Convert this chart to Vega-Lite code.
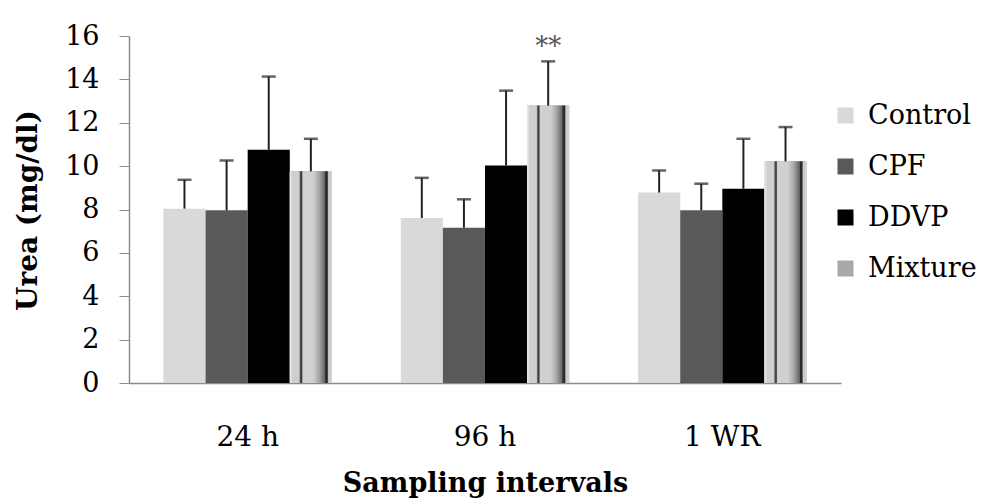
{
  "$schema": "https://vega.github.io/schema/vega-lite/v6.json",
  "width": 712,
  "height": 347,
  "autosize": "none",
  "padding": {"left": 129, "top": 36, "right": 146, "bottom": 121},
  "background": "white",
  "data": {
    "values": [
      {"Interval": "24 h", "Group": "Control", "v": 8.04, "err": 9.37, "sig": ""},
      {"Interval": "24 h", "Group": "CPF", "v": 7.96, "err": 10.26, "sig": ""},
      {"Interval": "24 h", "Group": "DDVP", "v": 10.75, "err": 14.13, "sig": ""},
      {"Interval": "24 h", "Group": "Mixture", "v": 9.76, "err": 11.26, "sig": ""},
      {"Interval": "96 h", "Group": "Control", "v": 7.61, "err": 9.46, "sig": ""},
      {"Interval": "96 h", "Group": "CPF", "v": 7.16, "err": 8.47, "sig": ""},
      {"Interval": "96 h", "Group": "DDVP", "v": 10.03, "err": 13.48, "sig": ""},
      {"Interval": "96 h", "Group": "Mixture", "v": 12.79, "err": 14.83, "sig": "**"},
      {"Interval": "1 WR", "Group": "Control", "v": 8.78, "err": 9.80, "sig": ""},
      {"Interval": "1 WR", "Group": "CPF", "v": 7.96, "err": 9.19, "sig": ""},
      {"Interval": "1 WR", "Group": "DDVP", "v": 8.96, "err": 11.26, "sig": ""},
      {"Interval": "1 WR", "Group": "Mixture", "v": 10.22, "err": 11.80, "sig": ""}
    ]
  },
  "config": {
    "view": {"stroke": null},
    "font": "DejaVu Serif",
    "axis": {"grid": false, "domainColor": "#8c8c8c", "tickColor": "#8c8c8c", "labelColor": "black", "titleColor": "black", "labelFont": "DejaVu Serif", "titleFont": "DejaVu Serif"},
    "legend": {"labelFont": "DejaVu Serif", "padding": 0},
    "text": {"font": "DejaVu Serif"}
  },
  "encoding": {
    "x": {
      "field": "Interval", "type": "nominal", "sort": ["24 h", "96 h", "1 WR"],
      "scale": {"paddingInner": 0.29, "paddingOuter": 0.145},
      "axis": {"title": "Sampling intervals", "labelAngle": 0, "labelFontSize": 28, "labelPadding": 40, "ticks": false, "titleFontSize": 27, "titleFontWeight": "bold", "titleY": 100, "titleBaseline": "middle", "domainWidth": 1.5}
    },
    "xOffset": {"field": "Group", "type": "nominal", "sort": ["Control", "CPF", "DDVP", "Mixture"]}
  },
  "layer": [
    {
      "mark": {"type": "bar"},
      "encoding": {
        "y": {
          "field": "v", "type": "quantitative",
          "scale": {"domain": [0, 16]},
          "axis": {"title": "Urea (mg/dl)", "values": [0, 2, 4, 6, 8, 10, 12, 14, 16], "labelFontSize": 27, "labelPadding": 20, "tickSize": 10, "domainWidth": 1.5, "titleFontSize": 28, "titleFontWeight": "bold", "titleX": -101, "titleY": 174, "titleBaseline": "middle", "titleAlign": "center", "titleAngle": -90}
        },
        "color": {
          "field": "Group", "type": "nominal", "sort": ["Control", "CPF", "DDVP", "Mixture"],
          "scale": {
            "domain": ["Control", "CPF", "DDVP", "Mixture"],
            "range": ["#d9d9d9", "#595959", "#000000", "#a8a8a8"]
          },
          "legend": {"title": null, "orient": "none", "legendX": 703, "legendY": 66, "symbolType": "square", "symbolSize": 256, "symbolStrokeWidth": 0, "labelFontSize": 27, "labelColor": "black", "labelOffset": 9, "rowPadding": 23, "symbolOpacity": 1}
        }
      }
    },
    {
      "transform": [{"filter": "datum.Group === 'Mixture'"}],
      "mark": {"type": "bar", "color": {"gradient": "linear", "x1": 0, "y1": 0, "x2": 1, "y2": 0, "stops": [
        {"offset": 0, "color": "#f2f2f2"},
        {"offset": 0.06, "color": "#cfcfcf"},
        {"offset": 0.22, "color": "#cfcfcf"},
        {"offset": 0.25, "color": "#555555"},
        {"offset": 0.28, "color": "#333333"},
        {"offset": 0.31, "color": "#d0d0d0"},
        {"offset": 0.56, "color": "#d0d0d0"},
        {"offset": 0.70, "color": "#a5a5a5"},
        {"offset": 0.83, "color": "#666666"},
        {"offset": 0.85, "color": "#2a2a2a"},
        {"offset": 0.89, "color": "#2a2a2a"},
        {"offset": 0.92, "color": "#c8c8c8"},
        {"offset": 1, "color": "#d6d6d6"}
      ]}},
      "encoding": {"y": {"field": "v", "type": "quantitative"}}
    },
    {
      "mark": {"type": "rule", "color": "#222222", "strokeWidth": 2},
      "encoding": {"y": {"field": "v", "type": "quantitative"}, "y2": {"field": "err"}}
    },
    {
      "mark": {"type": "tick", "color": "#222222", "thickness": 2.5, "size": 14},
      "encoding": {"y": {"field": "err", "type": "quantitative"}}
    },
    {
      "mark": {"type": "text", "fontSize": 26, "color": "#555555", "dy": -14, "baseline": "middle"},
      "encoding": {"y": {"field": "err", "type": "quantitative"}, "text": {"field": "sig"}}
    }
  ]
}
